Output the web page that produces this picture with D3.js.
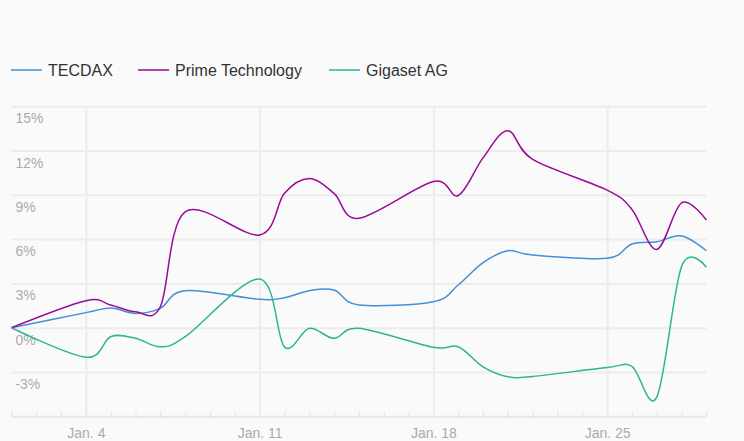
<!DOCTYPE html>
<html>
<head>
<meta charset="utf-8">
<script src="https://cdn.jsdelivr.net/npm/d3@7"></script>
<style>
  html, body { margin: 0; padding: 0; background: #fafafa; }
  svg { display: block; font-family: "Liberation Sans", Arial, Helvetica, sans-serif; }
</style>
</head>
<body>
<svg id="chart" width="744" height="441"></svg>
<script>
// ---- data ----
const dates = ["2016-01-01","2016-01-04","2016-01-05","2016-01-06","2016-01-07","2016-01-08",
  "2016-01-11","2016-01-12","2016-01-13","2016-01-14","2016-01-15",
  "2016-01-18","2016-01-19","2016-01-20","2016-01-21","2016-01-22",
  "2016-01-25","2016-01-26","2016-01-27","2016-01-28","2016-01-29"];
const seriesNames = ["TECDAX", "Prime Technology", "Gigaset AG"];
const tecdax = [0, 1.02, 1.33, 0.97, 1.31, 2.51, 1.92, 2.03, 2.51, 2.55, 1.54, 1.76, 2.89, 4.4, 5.21, 4.92, 4.7, 5.67, 5.82, 6.21, 5.21];
const prime  = [0, 1.83, 1.54, 1.08, 1.42, 7.85, 6.28, 9.1, 10.1, 9.1, 7.41, 9.9, 8.95, 11.5, 13.34, 11.4, 9.32, 8.01, 5.3, 8.46, 7.29];
const gigaset= [0, -2.0, -0.61, -0.72, -1.29, -0.61, 3.3, -1.3, -0.04, -0.72, -0.04, -1.33, -1.29, -2.65, -3.32, -3.3, -2.7, -2.62, -4.7, 4.15, 4.09];
const yTicks = [-3, 0, 3, 6, 9, 12, 15];
const xTickDates = ["2016-01-04", "2016-01-11", "2016-01-18", "2016-01-25"];
const xTickLabels = ["Jan. 4", "Jan. 11", "Jan. 18", "Jan. 25"];
const xStart = "2016-01-01", xEnd = "2016-01-29";
const colors = ["#4190d8", "#990a99", "#2db593"];

// ---- layout ----
const parse = d3.timeParse("%Y-%m-%d");
const mLeft = 11.4, mRight = 706.4, mTop = 106.2, mBottom = 416.3;
const svg = d3.select("#chart");
svg.append("rect").attr("width", 744).attr("height", 441).attr("fill", "#fafafa");

const x = d3.scaleTime().domain([parse(xStart), parse(xEnd)]).range([mLeft, mRight]);
const y = d3.scaleLinear().domain([-6, 15]).range([mBottom, mTop]);

const gridColor = "#ececec";

// horizontal gridlines + labels
const yAxis = d3.axisLeft(y).tickValues(yTicks).tickSize(-(mRight - mLeft)).tickSizeOuter(0)
  .tickFormat(d => d + "%");
const gy = svg.append("g").attr("transform", `translate(${mLeft},0)`).call(yAxis);
gy.select(".domain").remove();
gy.selectAll(".tick line").attr("stroke", gridColor).attr("stroke-width", 2);
gy.selectAll(".tick text").attr("text-anchor", "start").attr("x", 4).attr("y", 16.5).attr("dy", null)
  .attr("fill", "#aaaaaa").style("font-size", "14px");
gy.attr("font-family", null);

// minor daily ticks
const minorAxis = d3.axisBottom(x).ticks(d3.timeDay.every(1)).tickSize(-5).tickSizeOuter(0).tickFormat("");
const gm = svg.append("g").attr("transform", `translate(0,${mBottom})`).call(minorAxis);
gm.select(".domain").attr("stroke", "#e6e6e6").attr("stroke-width", 2);
gm.selectAll(".tick line").attr("stroke", "#e6e6e6").attr("stroke-width", 1.2);

// major ticks / vertical gridlines
const xAxis = d3.axisBottom(x).tickValues(xTickDates.map(parse)).tickSize(-(mBottom - mTop)).tickSizeOuter(0)
  .tickFormat((d, i) => xTickLabels[i]);
const gx = svg.append("g").attr("transform", `translate(0,${mBottom})`).call(xAxis);
gx.select(".domain").remove();
gx.selectAll(".tick line").attr("stroke", gridColor).attr("stroke-width", 2);
gx.selectAll(".tick text").attr("y", 21.5).attr("dy", null).attr("fill", "#aaaaaa")
  .style("font-size", "14px");
gx.attr("font-family", null);

// lines
const allSeries = [tecdax, prime, gigaset];
const line = d3.line().curve(d3.curveCardinal.tension(0))
  .x((d, i) => x(parse(dates[i]))).y(d => y(d));
allSeries.forEach((s, k) => {
  svg.append("path").datum(s).attr("d", line).attr("fill", "none")
    .attr("stroke", colors[k]).attr("stroke-width", 1.5);
});

// legend
const legendX = [11, 138, 329];
const lg = svg.append("g");
seriesNames.forEach((n, k) => {
  lg.append("line").attr("x1", legendX[k]).attr("x2", legendX[k] + 31).attr("y1", 70).attr("y2", 70)
    .attr("stroke", colors[k]).attr("stroke-width", 1.5);
  lg.append("text").attr("x", legendX[k] + 37).attr("y", 76).text(n)
    .attr("fill", "#333333").style("font-size", "16px");
});
</script>
</body>
</html>
